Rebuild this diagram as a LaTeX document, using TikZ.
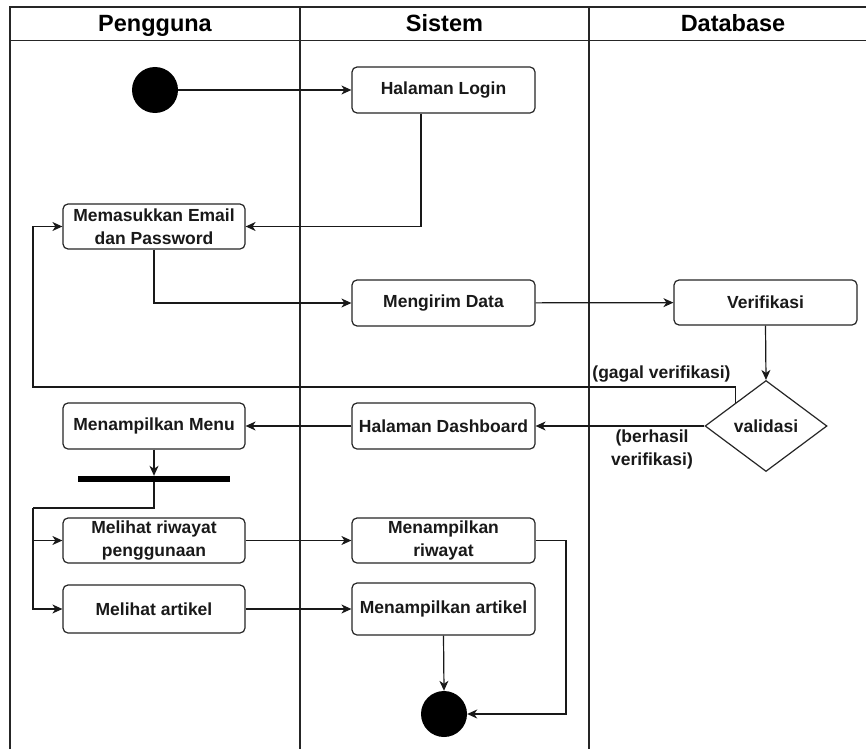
\documentclass[tikz,border=0pt]{standalone}
\usepackage{fontspec}
\setmainfont{Liberation Sans}
\usetikzlibrary{arrows.meta,shapes.geometric}
\newcommand{\bodyfnt}{\bfseries\fontsize{17.5}{22.5}\selectfont}
\newcommand{\headfnt}{\bfseries\fontsize{23.5}{28}\selectfont}
\tikzset{
  actbox/.style={draw=black!85, rounded corners=5pt, minimum width=183pt, minimum height=46pt,
    inner sep=0pt, align=center, fill=white, line width=1.2pt, font=\bodyfnt, text=black!90},
  decbox/.style={draw=black!85, diamond, aspect=1.34, minimum width=122pt, minimum height=91pt,
    inner sep=0pt, fill=white, line width=1.2pt, font=\bodyfnt, text=black!90},
  dot/.style={circle, fill=black, minimum size=46pt, inner sep=0pt},
  forkbar/.style={rectangle, fill=black, minimum width=152pt, minimum height=6pt, inner sep=0pt},
  arr/.style={line width=1.2pt, draw=black!90, -{Stealth[length=10pt,width=9pt,inset=3pt]}},
  conn/.style={line width=1.2pt, draw=black!90},
  lane/.style={line width=1.2pt, draw=black!85},
  lbl/.style={font=\bodyfnt, text=black!90, align=center, inner sep=0pt},
  hdr/.style={font=\headfnt, text=black, inner sep=0pt, anchor=base}
}
\begin{document}
\begin{tikzpicture}[x=1pt,y=-1pt]
\useasboundingbox (0,0) rectangle (866,749);
\fill[white] (0,0) rectangle (866,749);
\begin{scope}
\clip (0,0) rectangle (866,749);
% swimlane frame
\draw[lane] (10,749) -- (10,7) -- (880,7);
\draw[lane] (10,40.5) -- (880,40.5);
\draw[lane] (300,7) -- (300,749);
\draw[lane] (589,7) -- (589,749);
\draw[lane] (878,7) -- (878,749);
\end{scope}
\node[hdr] (hpengguna) at (155,31.5) {Pengguna};
\node[hdr] (hsistem) at (444.5,31.5) {Sistem};
\node[hdr] (hdatabase) at (733,31.5) {Database};

% nodes
\node[dot] (start) at (155,90) {};
\node[actbox] (login) at (443.5,90) {Halaman Login};
\node[actbox, minimum width=182pt, minimum height=45pt] (input) at (154,226.5) {Memasukkan Email\\dan Password};
\node[actbox] (kirim) at (443.5,303) {Mengirim Data};
\node[actbox, minimum height=45pt] (verif) at (765.5,302.5) {Verifikasi};
\node[decbox] (valid) at (766,426) {validasi};
\node[actbox] (dash) at (443.5,426) {Halaman Dashboard};
\node[actbox, minimum width=182pt] (menu) at (154,426) {Menampilkan Menu};
\node[forkbar] (bar) at (154,479) {};
\node[actbox, minimum width=182pt, minimum height=45pt] (riw) at (154,540.5) {Melihat riwayat\\penggunaan};
\node[actbox, minimum height=45pt] (tampriw) at (443.5,540.5) {Menampilkan\\riwayat};
\node[actbox, minimum width=182pt, minimum height=48pt] (art) at (154,609) {Melihat artikel};
\node[actbox, minimum height=52pt] (tamart) at (443.5,609) {Menampilkan artikel};
\node[dot] (end) at (444,714) {};

% labels
\node[lbl] (lgagal) at (661.5,374) {(gagal verifikasi)};
\node[lbl] (lberhasil) at (652,449.5) {(berhasil\\verifikasi)};

% helper coordinates
\coordinate (gl) at (33,387);
\coordinate (fork) at (33,508);
\coordinate (rc) at (566,714);

% connectors
\draw[arr] (start) -- (login);
\draw[arr] ([xshift=-22.5pt]login.south) |- (input.east);
\draw[arr] (input.south) |- (kirim.west);
\draw[arr] (kirim) -- (verif);
\draw[arr] (verif.south) -- (valid.north);
\draw[arr] (valid.north west) |- (gl) |- (input.west);
\draw[arr] (valid.west) -- (dash.east);
\draw[arr] (dash.west) -- (menu.east);
\draw[arr] (menu.south) -- (bar.north);
\draw[conn] (bar.south) |- (fork);
\draw[arr] (fork) |- (riw.west);
\draw[arr] (fork) |- (art.west);
\draw[arr] (riw.east) -- (tampriw.west);
\draw[arr] (art.east) -- (tamart.west);
\draw[arr] (tamart.south) -- (end.north);
\draw[arr] (tampriw.east) -| (rc) -- (end.east);
\end{tikzpicture}
\end{document}
